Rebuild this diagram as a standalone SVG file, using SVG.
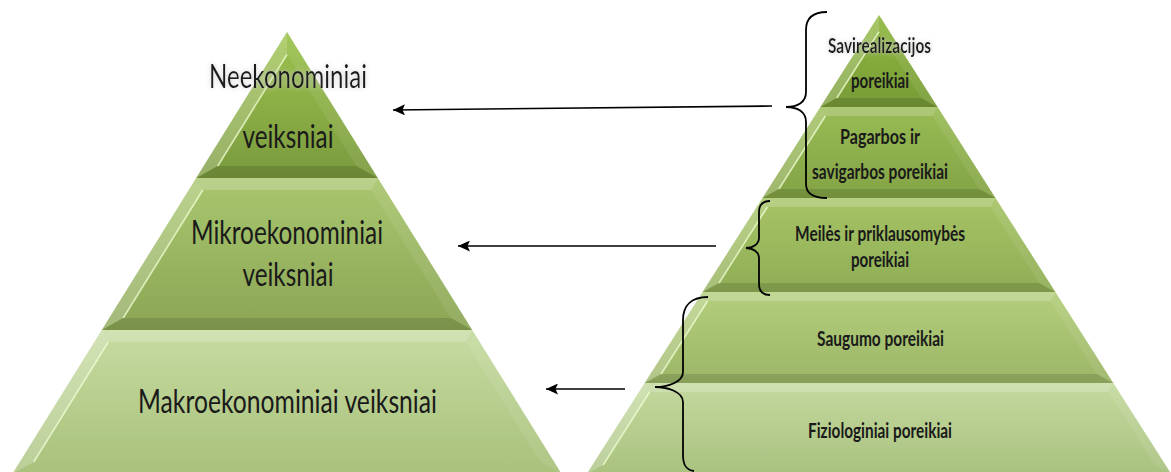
<svg xmlns="http://www.w3.org/2000/svg" width="1171" height="472" viewBox="0 0 1171 472">
<defs>
<style>
.bl{fill:#ffffff;fill-opacity:.22}
.bt{fill:#ffffff;fill-opacity:.2}
.br{fill:#ffffff;fill-opacity:.08}
.bb{fill:#000000;fill-opacity:.12}
.hl{fill:none;stroke:#f2ffd6;stroke-opacity:.75;stroke-width:1.6}
.lt{font-family:Lato,"Open Sans","Liberation Sans",sans-serif;font-size:32px;fill:#1a1a1a;text-anchor:middle}
.rt{font-family:Lato,"Open Sans","Liberation Sans",sans-serif;font-size:21px;font-weight:bold;fill:#1a1a1a;text-anchor:middle}
.con{fill:none;stroke:#000;stroke-width:1.6}
.brace{fill:none;stroke:#000;stroke-width:1.8}
</style>
<filter id="glow" x="-20%" y="-40%" width="140%" height="180%">
<feGaussianBlur in="SourceAlpha" stdDeviation="2.5" result="b"/>
<feFlood flood-color="#c8c8c8" flood-opacity="0.9"/>
<feComposite in2="b" operator="in" result="g"/>
<feMerge><feMergeNode in="g"/><feMergeNode in="SourceGraphic"/></feMerge>
</filter>
<marker id="ah" markerUnits="userSpaceOnUse" viewBox="0 0 12 11" refX="12" refY="5.5" markerWidth="12" markerHeight="11" orient="auto">
<path d="M0,0 L12,5.5 L0,11 L2.5,5.5 z" fill="#000"/>
</marker>
<linearGradient id="gL1" x1="0" y1="0" x2="0" y2="1"><stop offset="0" stop-color="#9cc24c"/><stop offset="1" stop-color="#7a9a3e"/></linearGradient>
<linearGradient id="gL2" x1="0" y1="0" x2="0" y2="1"><stop offset="0" stop-color="#a8c66e"/><stop offset="1" stop-color="#8ba655"/></linearGradient>
<linearGradient id="gL3" x1="0" y1="0" x2="0" y2="1"><stop offset="0" stop-color="#c6dba1"/><stop offset="1" stop-color="#a8c17b"/></linearGradient>
<linearGradient id="gR1" x1="0" y1="0" x2="0" y2="1"><stop offset="0" stop-color="#8fb83e"/><stop offset="1" stop-color="#789b37"/></linearGradient>
<linearGradient id="gR2" x1="0" y1="0" x2="0" y2="1"><stop offset="0" stop-color="#99bc55"/><stop offset="1" stop-color="#83a345"/></linearGradient>
<linearGradient id="gR3" x1="0" y1="0" x2="0" y2="1"><stop offset="0" stop-color="#a6c465"/><stop offset="1" stop-color="#8fad55"/></linearGradient>
<linearGradient id="gR4" x1="0" y1="0" x2="0" y2="1"><stop offset="0" stop-color="#b3ce7c"/><stop offset="1" stop-color="#9bb666"/></linearGradient>
<linearGradient id="gR5" x1="0" y1="0" x2="0" y2="1"><stop offset="0" stop-color="#c4d99e"/><stop offset="1" stop-color="#a9c27f"/></linearGradient>
</defs>
<rect width="1171" height="472" fill="#ffffff"/>

<g id="left-pyramid">
<g id="tier-neekonominiai">
<polygon points="287,32 377.8,178 196.2,178" fill="url(#gL1)"/>
<polygon class="bl" points="287,32 287,54.5 217.7,166 196.2,178"/>
<polygon class="br" points="287,32 377.8,178 356.3,166 287,54.5"/>
<polygon class="bb" points="196.2,178 217.7,166 356.3,166 377.8,178"/>
<line class="hl" x1="287" y1="54.5" x2="217.7" y2="166"/>
<text class="lt" x="288" y="88" textLength="158" lengthAdjust="spacingAndGlyphs" filter="url(#glow)">Neekonominiai</text>
<text class="lt" x="288" y="148" textLength="91" lengthAdjust="spacingAndGlyphs">veiksniai</text>
</g>
<g id="tier-mikroekonominiai">
<polygon points="196.2,178 377.8,178 472.2,330 101.8,330" fill="url(#gL2)"/>
<polygon class="bt" points="196.2,178 377.8,178 371.2,190 202.8,190"/>
<polygon class="bl" points="196.2,178 202.8,190 123.2,318 101.8,330"/>
<polygon class="br" points="377.8,178 472.2,330 450.8,318 371.2,190"/>
<polygon class="bb" points="101.8,330 123.2,318 450.8,318 472.2,330"/>
<line class="hl" x1="202.8" y1="190" x2="123.2" y2="318"/>
<text class="lt" x="287" y="244" textLength="192" lengthAdjust="spacingAndGlyphs">Mikroekonominiai</text>
<text class="lt" x="288" y="286" textLength="91" lengthAdjust="spacingAndGlyphs">veiksniai</text>
</g>
<g id="tier-makroekonominiai">
<polygon points="101.8,330 472.2,330 561.7,474 12.3,474" fill="url(#gL3)"/>
<polygon class="bt" points="101.8,330 472.2,330 465.7,342 108.3,342"/>
<polygon class="bl" points="101.8,330 108.3,342 33.7,462 12.3,474"/>
<polygon class="br" points="472.2,330 561.7,474 540.3,462 465.7,342"/>
<line class="hl" x1="108.3" y1="342" x2="33.7" y2="462"/>
<text class="lt" x="287.5" y="413" textLength="299" lengthAdjust="spacingAndGlyphs">Makroekonominiai veiksniai</text>
</g>
</g>

<g id="right-pyramid">
<g id="tier-savirealizacijos">
<polygon points="879,15 937.6,107 820.4,107" fill="url(#gR1)"/>
<polygon class="bl" points="879,15 879,31.8 836.8,98 820.4,107"/>
<polygon class="br" points="879,15 937.6,107 921.2,98 879,31.8"/>
<polygon class="bb" points="820.4,107 836.8,98 921.2,98 937.6,107"/>
<line class="hl" x1="879" y1="31.8" x2="836.8" y2="98"/>
<text class="rt" x="879.5" y="53" textLength="103" lengthAdjust="spacingAndGlyphs" filter="url(#glow)">Savirealizacijos</text>
<text class="rt" x="880" y="88" textLength="58" lengthAdjust="spacingAndGlyphs">poreikiai</text>
</g>
<g id="tier-pagarbos">
<polygon points="820.4,107 937.6,107 995.5,198 762.5,198" fill="url(#gR2)"/>
<polygon class="bt" points="820.4,107 937.6,107 932.6,116 825.4,116"/>
<polygon class="bl" points="820.4,107 825.4,116 778.9,189 762.5,198"/>
<polygon class="br" points="937.6,107 995.5,198 979.1,189 932.6,116"/>
<polygon class="bb" points="762.5,198 778.9,189 979.1,189 995.5,198"/>
<line class="hl" x1="825.4" y1="116" x2="778.9" y2="189"/>
<text class="rt" x="880" y="144" textLength="80" lengthAdjust="spacingAndGlyphs">Pagarbos ir</text>
<text class="rt" x="880" y="179" textLength="136" lengthAdjust="spacingAndGlyphs">savigarbos poreikiai</text>
</g>
<g id="tier-meiles">
<polygon points="762.5,198 995.5,198 1055.4,292 702.6,292" fill="url(#gR3)"/>
<polygon class="bt" points="762.5,198 995.5,198 990.6,207 767.4,207"/>
<polygon class="bl" points="762.5,198 767.4,207 719,283 702.6,292"/>
<polygon class="br" points="995.5,198 1055.4,292 1039,283 990.6,207"/>
<polygon class="bb" points="702.6,292 719,283 1039,283 1055.4,292"/>
<line class="hl" x1="767.4" y1="207" x2="719" y2="283"/>
<text class="rt" x="880" y="241" textLength="170" lengthAdjust="spacingAndGlyphs">Meilės ir priklausomybės</text>
<text class="rt" x="880" y="267" textLength="58" lengthAdjust="spacingAndGlyphs">poreikiai</text>
</g>
<g id="tier-saugumo">
<polygon points="702.6,292 1055.4,292 1113.3,383 644.7,383" fill="url(#gR4)"/>
<polygon class="bt" points="702.6,292 1055.4,292 1050.4,301 707.6,301"/>
<polygon class="bl" points="702.6,292 707.6,301 661.1,374 644.7,383"/>
<polygon class="br" points="1055.4,292 1113.3,383 1096.9,374 1050.4,301"/>
<polygon class="bb" points="644.7,383 661.1,374 1096.9,374 1113.3,383"/>
<line class="hl" x1="707.6" y1="301" x2="661.1" y2="374"/>
<text class="rt" x="880.5" y="346" textLength="127" lengthAdjust="spacingAndGlyphs">Saugumo poreikiai</text>
</g>
<g id="tier-fiziologiniai">
<polygon points="644.7,383 1113.3,383 1171.3,474 586.7,474" fill="url(#gR5)"/>
<polygon class="bt" points="644.7,383 1113.3,383 1108.4,392 649.6,392"/>
<polygon class="bl" points="644.7,383 649.6,392 603.1,465 586.7,474"/>
<polygon class="br" points="1113.3,383 1171.3,474 1154.9,465 1108.4,392"/>
<line class="hl" x1="649.6" y1="392" x2="603.1" y2="465"/>
<text class="rt" x="880" y="438" textLength="144" lengthAdjust="spacingAndGlyphs">Fiziologiniai poreikiai</text>
</g>
</g>

<g id="connectors">
<path class="brace" d="M827,12 C813,12 806,18 806,30 L806,92 C806,102 798,107 786,107 C798,107 806,112 806,122 L806,184 C806,194 813,198 827,198"/>
<path class="brace" d="M770,201 C762,201 759,205 759,212 L759,238 C759,244 753,248 746,248 C753,248 759,252 759,258 L759,284 C759,291 762,295 770,295"/>
<path class="brace" d="M708,297 C692,297 683,305 683,320 L683,372 C683,382 668,387 655,387 C668,387 683,392 683,402 L683,455 C683,465 686,470 694,471"/>
<line class="con" x1="772" y1="106" x2="393" y2="110" marker-end="url(#ah)"/>
<line class="con" x1="716" y1="246" x2="458" y2="246" marker-end="url(#ah)"/>
<line class="con" x1="625" y1="389" x2="546" y2="389" marker-end="url(#ah)"/>
</g>
</svg>
